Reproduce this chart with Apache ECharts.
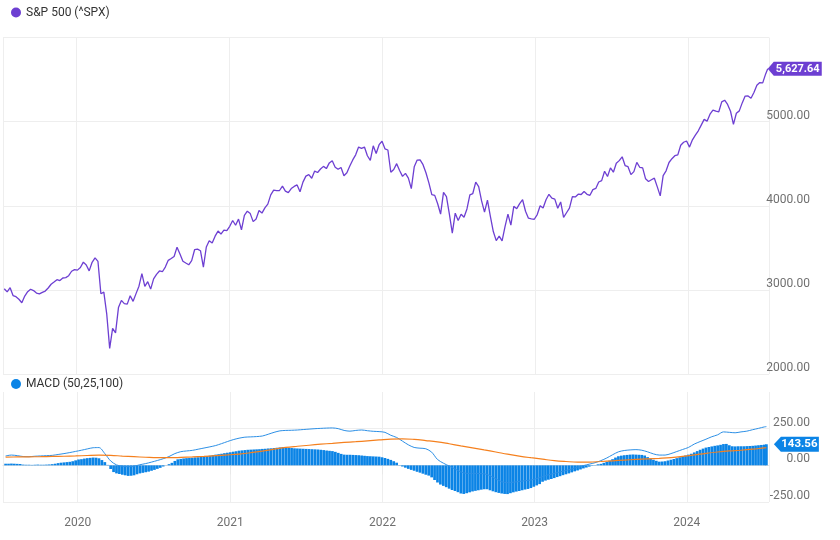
<!DOCTYPE html>
<html>
<head>
<meta charset="utf-8">
<script src="https://cdn.jsdelivr.net/npm/echarts@6/dist/echarts.min.js"></script>
<style>
html,body{margin:0;padding:0;background:#fff;}
#chart{width:840px;height:540px;}
</style>
</head>
<body>
<div id="chart"></div>
<script>
// Weekly closes of the S&P 500, first week ending 2019-07-12, last point 2024-07-10
const firstWeek = '2019-07-12';
const lastDate = '2024-07-10';
const price = [
3013.77,2976.61,3025.86,2932.05,2918.65,2888.68,2847.11,2926.46,2978.71,3007.39,
2992.07,2961.79,2952.01,2970.27,2986.20,3022.55,3066.91,3093.08,3120.46,3110.29,
3140.98,3145.91,3168.80,3221.22,3240.02,
3234.85,3265.35,3329.62,3295.47,3225.52,3327.71,3380.16,3337.75,2954.22,2972.37,
2711.02,2304.92,2541.47,2488.65,2789.82,2874.56,2836.74,2830.71,2929.80,2863.70,
2955.45,3044.31,3193.93,3041.31,3097.74,3009.05,3130.01,3185.04,3224.73,3215.63,
3271.12,3351.28,3372.85,3397.16,3508.01,3426.96,3340.97,3319.47,3298.46,3348.42,
3477.13,3483.81,3465.39,3269.96,3509.44,3585.15,3557.54,3638.35,3699.12,3663.46,
3709.41,3703.06,
3756.07,3824.68,3768.25,3841.47,3714.24,3886.83,3934.83,3906.71,3811.15,3841.94,
3943.34,3913.10,3974.54,4019.87,4128.80,4185.47,4180.17,4181.17,4232.60,4173.85,
4155.86,4204.11,4229.89,4247.44,4166.45,4280.70,4352.34,4369.55,4327.16,4411.79,
4395.26,4436.52,4468.00,4441.67,4509.37,4535.43,4458.58,4432.99,4455.48,4357.04,
4391.34,4471.37,4544.90,4605.38,4697.53,4682.85,4697.96,4594.62,4538.43,4712.02,
4620.64,4725.79,4766.18,
4677.03,4662.85,4397.94,4431.85,4500.53,4418.64,4348.87,4384.65,4328.87,4204.31,
4463.12,4543.06,4545.86,4488.28,4392.59,4271.78,4131.93,4123.34,4023.89,3901.36,
4158.24,4108.54,3900.86,3674.84,3911.74,3825.33,3899.38,3863.16,3961.63,4130.29,
4145.19,4280.15,4228.48,4057.66,3924.26,4067.36,3873.33,3693.23,3585.62,3639.66,
3583.07,3752.75,3901.06,3770.55,3992.93,3965.34,4026.12,4071.70,3934.38,3852.36,
3844.82,3839.50,
3895.08,3999.09,3972.61,4070.56,4136.48,4090.46,4079.09,3970.04,4045.64,3861.59,
3916.64,3970.99,4109.31,4105.02,4137.64,4133.52,4169.48,4136.25,4124.08,4191.98,
4205.45,4282.37,4298.86,4409.59,4348.33,4450.38,4398.95,4505.42,4536.34,4582.23,
4478.03,4464.05,4369.71,4405.71,4515.77,4457.49,4450.32,4320.06,4288.05,4308.50,
4327.78,4224.16,4117.37,4358.34,4415.24,4514.02,4559.34,4594.63,4604.37,4719.19,
4754.63,4769.83,
4697.24,4783.83,4839.81,4890.97,4958.61,5026.61,5005.57,5088.80,5137.08,5123.69,
5117.09,5234.18,5254.35,5204.34,5123.41,4967.23,5099.96,5127.79,5222.68,5303.27,
5304.72,5277.51,5346.99,5431.60,5464.62,5460.48,5567.19,
5627.64
];
// MACD histogram, one bar per week (same dates as price)
const hist = [
11,11,12,11,10,9,5,4,4,3,
4,5,4,4,5,6,8,11,15,18,
20,22,24,28,34,40,42,46,49,51,
53,52,48,36,22,3,-25,-46,-55,-59,
-64,-68,-72,-71,-68,-61,-55,-51,-47,-43,
-37,-31,-24,-17,-8,1,8,17,30,41,
44,47,49,51,52,54,55,57,60,63,
66,69,73,76,79,83,86,89,93,96,
100,102,104,106,107,108,109,110,112,113,
115,116,118,120,122,124,122,120,118,116,
115,114,113,112,111,110,109,108,106,104,
101,99,97,92,85,78,73,72,72,71,
70,69,67,65,63,62,61,60,59,55,
50,44,37,28,18,2,-8,-16,-24,-31,
-37,-44,-50,-57,-64,-70,-82,-100,-117,-131,
-140,-149,-159,-168,-175,-183,-192,-195,-190,-184,
-178,-174,-170,-166,-163,-163,-170,-177,-183,-188,
-192,-195,-196,-190,-184,-179,-175,-170,-165,-161,
-155,-146,-137,-128,-112,-104,-98,-93,-87,-80,
-74,-67,-61,-55,-48,-41,-35,-28,-21,-15,
-9,-3,2,7,10,17,24,32,42,53,
62,66,69,71,73,74,73,72,71,67,
56,46,38,31,25,26,28,33,38,43,
49,55,61,67,73,79,88,97,106,114,
121,125,129,133,136,140,145,146,137,130,
129,130,130,130,131,132,133,135,137,139,
141,143.56
];
// MACD line, read every 2nd week (last value at lastDate)
const macdLine = [
64,70,66,60,59,62,64,66,68,74,
80,87,95,103,112,120,121,80,30,3,
-6,-9,-6,4,12,22,33,45,60,80,
93,98,102,110,118,126,135,148,162,175,
185,192,194,196,200,212,225,235,238,239,
241,244,247,250,252,254,255,250,238,233,
238,241,236,232,230,225,205,190,165,140,
122,117,113,90,40,15,-5,-25,-45,-55,
-55,-56,-58,-70,-92,-112,-118,-115,-110,-105,
-100,-90,-77,-65,-55,-45,-35,-25,-12,-2,
8,18,32,50,72,92,101,105,107,103,
92,78,70,70,80,94,108,122,145,162,
178,195,208,228,225,222,228,233,243,252,
262,
264
];
// Signal line, read every 4th week (last value at lastDate)
const signalLine = [
56,57,58,59,61,62,64,67,69,68,
63,59,55,52,52,54,57,61,66,71,
77,86,97,110,122,130,137,144,150,156,
161,167,173,179,181,177,169,160,147,133,
119,105,91,76,63,52,42,32,26,22,
22,26,31,36,40,44,48,53,61,71,
82,91,98,103,110,
119,
120
];
const yTicksPrice = [2000, 3000, 4000, 5000, 6000];
const yTicksMacd = [-250, 0, 250, 500];

const PURPLE = '#6D3FD2';
const BLUE = '#0B84E6';
const BLUE_LINE = '#2D90E6';
const ORANGE = '#F5801E';
const GRID = '#eeeeee';
const LABEL = '#707070';
const FONT = 'Roboto, "Noto Sans", sans-serif';

const DAY = 864e5;
const t0 = new Date(firstWeek + 'T00:00:00').getTime();
const tEnd = new Date(lastDate + 'T00:00:00').getTime();
const dates = [];
for (let i = 0; i < price.length - 1; i++) dates.push(t0 + i * 7 * DAY);
dates.push(tEnd);

const priceData = price.map((v, i) => [dates[i], v]);
const histData = hist.map((v, i) => [dates[i], v]);
const macdData = macdLine.map((v, k) => [k < macdLine.length - 1 ? dates[2 * k] : tEnd, v]);
const signalData = signalLine.map((v, k) => [k < signalLine.length - 1 ? dates[4 * k] : tEnd, v]);

const xMin = new Date('2019-07-09T00:00:00').getTime();
const xMax = new Date('2024-07-13T00:00:00').getTime();

const yearFmt = function (v) {
  const d = new Date(v);
  return (d.getMonth() === 0 && d.getDate() === 1) ? String(d.getFullYear()) : '';
};

const chart = echarts.init(document.getElementById('chart'), null, {renderer: 'canvas'});
chart.setOption({
  animation: false,
  backgroundColor: '#ffffff',
  textStyle: {fontFamily: FONT},
  legend: [
    {data: ['S&P 500 (^SPX)'], left: 11, top: 6.5, padding: 0, icon: 'circle', itemWidth: 10, itemHeight: 10,
     textStyle: {fontFamily: FONT, fontSize: 12, color: '#333'}, selectedMode: false},
    {data: ['MACD (50,25,100)'], left: 11, top: 378, padding: 0, icon: 'circle', itemWidth: 10, itemHeight: 10,
     textStyle: {fontFamily: FONT, fontSize: 12, color: '#333'}, selectedMode: false}
  ],
  grid: [
    {left: 3, right: 71, top: 37.5, height: 336.5},
    {left: 3, right: 71, top: 392, height: 110}
  ],
  xAxis: [
    {type: 'time', gridIndex: 0, min: xMin, max: xMax,
     minInterval: 365 * DAY, maxInterval: 366 * DAY,
     axisLine: {show: false}, axisTick: {show: false}, axisLabel: {show: false},
     splitLine: {show: true, lineStyle: {color: GRID, width: 1}}},
    {type: 'time', gridIndex: 1, min: xMin, max: xMax,
     minInterval: 365 * DAY, maxInterval: 366 * DAY,
     axisLine: {show: true, lineStyle: {color: '#e2e2e2', width: 1}},
     axisTick: {show: true, length: 9, lineStyle: {color: '#e8e8e8'}},
     axisLabel: {show: true, formatter: yearFmt, color: LABEL, fontSize: 12, fontFamily: FONT, margin: 15, hideOverlap: false},
     splitLine: {show: true, lineStyle: {color: GRID, width: 1}}}
  ],
  yAxis: [
    {type: 'value', gridIndex: 0, position: 'right', min: yTicksPrice[0], max: yTicksPrice[yTicksPrice.length - 1], interval: 1000,
     axisLine: {show: false}, axisTick: {show: false},
     axisLabel: {show: true, showMaxLabel: false, align: 'right', verticalAlign: 'bottom', margin: 41,
       color: LABEL, fontSize: 12, fontFamily: FONT, formatter: v => v.toFixed(2)},
     splitLine: {show: true, lineStyle: {color: GRID, width: 1}}},
    {type: 'value', gridIndex: 1, position: 'right', min: yTicksMacd[0], max: yTicksMacd[yTicksMacd.length - 1], interval: 250,
     axisLine: {show: false}, axisTick: {show: false},
     axisLabel: {show: true, showMaxLabel: false, align: 'right', verticalAlign: 'bottom', margin: 41,
       color: LABEL, fontSize: 12, fontFamily: FONT, formatter: v => v.toFixed(2)},
     splitLine: {show: true, showMaxLine: false, lineStyle: {color: [GRID, 'rgba(0,0,0,0)', GRID], width: 1}}}
  ],
  series: [
    {name: 'S&P 500 (^SPX)', type: 'line', xAxisIndex: 0, yAxisIndex: 0, data: priceData,
     showSymbol: false, symbol: 'none', lineStyle: {color: PURPLE, width: 1.3}, itemStyle: {color: PURPLE}, z: 3,
     markPoint: {
       symbol: 'path://M0,7L6,0L54,0L54,14L6,14Z', symbolSize: [54, 14], symbolOffset: [27, 0], symbolKeepAspect: false,
       itemStyle: {color: PURPLE},
       label: {show: true, position: 'inside', offset: [3, 0], color: '#fff', fontWeight: 'bold', fontSize: 11, fontFamily: FONT,
         formatter: p => p.value.toLocaleString('en-US', {minimumFractionDigits: 2, maximumFractionDigits: 2})},
       data: [{coord: [tEnd, price[price.length - 1]], value: price[price.length - 1]}]
     }},
    {name: 'MACD (50,25,100)', type: 'bar', xAxisIndex: 1, yAxisIndex: 1, data: histData,
     barWidth: 2.7, itemStyle: {color: BLUE}, z: 2,
     markPoint: {
       symbol: 'path://M0,7L7,0L45,0L45,14L7,14Z', symbolSize: [45, 15], symbolOffset: [30, 0], symbolKeepAspect: false,
       itemStyle: {color: BLUE},
       label: {show: true, position: 'inside', offset: [3, 0], color: '#fff', fontWeight: 'bold', fontSize: 11.5, fontFamily: FONT,
         formatter: p => p.value.toFixed(2)},
       data: [{coord: [tEnd, hist[hist.length - 1]], value: hist[hist.length - 1]}]
     }},
    {name: 'MACD line', type: 'line', xAxisIndex: 1, yAxisIndex: 1, data: macdData,
     showSymbol: false, symbol: 'none', smooth: 0.3, lineStyle: {color: BLUE_LINE, width: 1}, z: 4},
    {name: 'Signal', type: 'line', xAxisIndex: 1, yAxisIndex: 1, data: signalData,
     showSymbol: false, symbol: 'none', smooth: 0.4, lineStyle: {color: ORANGE, width: 1.2}, z: 5}
  ]
});
</script>
</body>
</html>
